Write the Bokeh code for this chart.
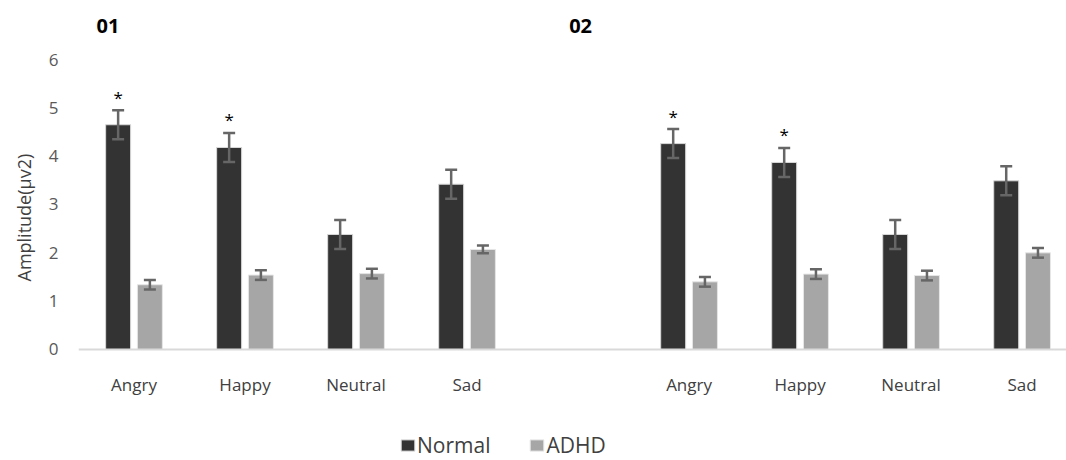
from bokeh.plotting import figure
from bokeh.models import (ColumnDataSource, Whisker, TeeHead, Legend, LegendItem,
                          FixedTicker, Label, Title)
from bokeh.core.properties import value
from bokeh.embed import file_html
from bokeh.resources import INLINE

# ---------------- data ----------------
categories = ["Angry", "Happy", "Neutral", "Sad"]
groups = ["01", "02"]

normal_01 = [4.65, 4.18, 2.38, 3.42]
normal_01_err = [0.30, 0.30, 0.30, 0.30]
adhd_01 = [1.34, 1.54, 1.57, 2.07]
adhd_01_err = [0.10, 0.10, 0.10, 0.08]

normal_02 = [4.26, 3.87, 2.38, 3.49]
normal_02_err = [0.30, 0.30, 0.30, 0.30]
adhd_02 = [1.40, 1.56, 1.53, 2.00]
adhd_02_err = [0.10, 0.10, 0.10, 0.10]

significant_01 = [True, True, False, False]
significant_02 = [True, True, False, False]

y_ticks = [0, 1, 2, 3, 4, 5, 6]
y_label = "Amplitude(µv2)"
series_labels = ["Normal", "ADHD"]

# ---------------- layout helpers ----------------
FONT = "Open Sans"
NORMAL_COLOR = "#333333"
ADHD_COLOR = "#a6a6a6"
ERR_COLOR = "#666666"
OFF = 0.143
BAR_W = 0.225

slots = []
for gi in range(len(groups)):
    for ci in range(len(categories)):
        slots.append(gi * (len(categories) + 1) + ci)

normal = normal_01 + normal_02
normal_err = normal_01_err + normal_02_err
adhd = adhd_01 + adhd_02
adhd_err = adhd_01_err + adhd_02_err
sig = significant_01 + significant_02

src_n = ColumnDataSource(dict(
    x=[s - OFF for s in slots], top=normal,
    upper=[v + e for v, e in zip(normal, normal_err)],
    lower=[v - e for v, e in zip(normal, normal_err)]))
src_a = ColumnDataSource(dict(
    x=[s + OFF for s in slots], top=adhd,
    upper=[v + e for v, e in zip(adhd, adhd_err)],
    lower=[v - e for v, e in zip(adhd, adhd_err)]))
src_star = ColumnDataSource(dict(
    x=[s - OFF for s, g in zip(slots, sig) if g],
    y=[v + e for v, e, g in zip(normal, normal_err, sig) if g],
    t=["*" for g in sig if g]))

p = figure(width=1066, height=460, output_backend="svg", toolbar_location=None,
           x_range=(-0.5, 8.40), y_range=(-2.297, 7.221),
           min_border_left=77, min_border_right=0, min_border_top=0,
           min_border_bottom=0)
p.outline_line_color = None
p.background_fill_color = "white"
p.border_fill_color = "white"
p.xgrid.grid_line_color = None
p.ygrid.grid_line_color = None

rn = p.vbar(x="x", top="top", width=BAR_W, source=src_n,
            fill_color=NORMAL_COLOR, line_color="#d9d9d9", line_width=1)
ra = p.vbar(x="x", top="top", width=BAR_W, source=src_a,
            fill_color=ADHD_COLOR, line_color="#e6e6e6", line_width=1)

for src in (src_n, src_a):
    w = Whisker(base="x", upper="upper", lower="lower", source=src, level="annotation",
                line_color=ERR_COLOR, line_width=2.5,
                upper_head=TeeHead(size=12, line_color=ERR_COLOR, line_width=2.5),
                lower_head=TeeHead(size=12, line_color=ERR_COLOR, line_width=2.5))
    p.add_layout(w)

p.text(x="x", y="y", text="t", source=src_star, text_align="center",
       text_baseline="middle", y_offset=-13, text_font=value(FONT),
       text_font_size="17px", text_color="#000000")

# group titles
title_x = [-0.338, 3.92]
for gx, g in zip(title_x, groups):
    p.add_layout(Label(x=gx, y=6.70, text=g, text_font=FONT, text_font_size="20px",
                       text_font_style="bold", text_color="#000000",
                       text_baseline="middle"))

# y axis
p.yaxis.ticker = FixedTicker(ticks=y_ticks)
p.yaxis.axis_line_color = None
p.yaxis.major_tick_line_color = None
p.yaxis.minor_tick_line_color = None
p.yaxis.major_label_standoff = 14
p.yaxis.major_label_text_font = FONT
p.yaxis.major_label_text_font_size = "17px"
p.yaxis.major_label_text_color = "#595959"

ytitle = Title(text=y_label, align="left", offset=179, standoff=19,
               text_font=FONT, text_font_size="18px", text_font_style="normal",
               text_color="#404040")
p.add_layout(ytitle, "left")

# x axis (placed at y = 0)
p.xaxis.fixed_location = 0
p.xaxis.ticker = FixedTicker(ticks=slots)
p.xaxis.major_label_overrides = {s: categories[i % len(categories)] for i, s in enumerate(slots)}
p.xaxis.axis_line_color = "#d9d9d9"
p.xaxis.axis_line_width = 2
p.xaxis.major_tick_line_color = None
p.xaxis.minor_tick_line_color = None
p.xaxis.major_label_standoff = 18
p.xaxis.major_label_text_font = FONT
p.xaxis.major_label_text_font_size = "17px"
p.xaxis.major_label_text_color = "#404040"

legend = Legend(items=[LegendItem(label=series_labels[0], renderers=[rn]),
                       LegendItem(label=series_labels[1], renderers=[ra])],
                orientation="horizontal", location=(321, 1),
                label_text_font=FONT, label_text_font_size="21px",
                label_text_color="#404040", glyph_width=17, glyph_height=14,
                label_standoff=1, spacing=38, padding=0, margin=0,
                border_line_color=None, background_fill_alpha=0)
p.add_layout(legend)

open("out.html", "w").write(file_html(p, INLINE))
